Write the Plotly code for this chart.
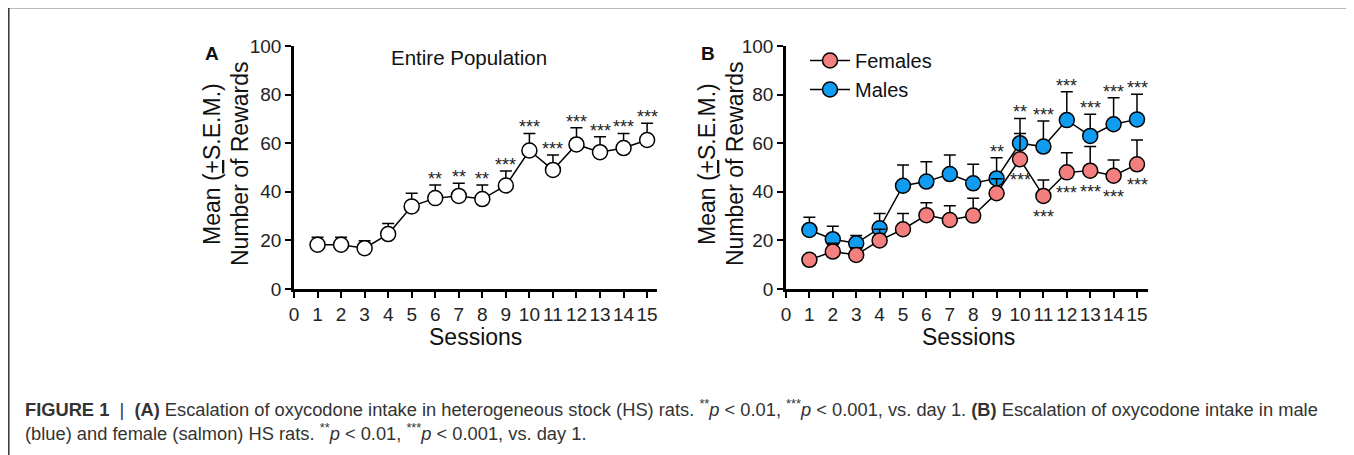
import plotly.graph_objects as go

W, H = 1354, 455
OFF = 8  # page body margin

sessions = list(range(1, 16))
x_ticks = list(range(0, 16))
y_ticks = [0, 20, 40, 60, 80, 100]

all_mean = [18.2, 18.2, 16.8, 22.6, 34.0, 37.4, 38.3, 37.0, 42.6, 57.0, 49.0, 59.5, 56.3, 58.0, 61.3]
all_sem = [3.1, 3.1, 3.1, 4.4, 5.4, 5.4, 5.2, 5.8, 6.0, 7.0, 6.1, 6.9, 6.4, 6.0, 6.9]
all_stars = ["", "", "", "", "", "**", "**", "**", "***", "***", "***", "***", "***", "***", "***"]

male_mean = [24.3, 20.5, 18.8, 25.0, 42.5, 44.2, 47.3, 43.5, 45.5, 60.0, 58.6, 69.5, 63.0, 67.8, 69.8]
male_sem = [5.2, 5.3, 3.2, 6.1, 8.5, 8.2, 7.8, 7.8, 8.5, 10.2, 10.5, 11.7, 8.9, 10.9, 10.3]
male_stars = ["", "", "", "", "", "", "", "", "**", "**", "***", "***", "***", "***", "***"]

female_mean = [12.0, 15.4, 14.0, 20.0, 24.6, 30.4, 28.4, 30.2, 39.4, 53.4, 38.3, 48.0, 48.7, 46.6, 51.3]
female_sem = [2.0, 3.4, 3.0, 4.6, 6.5, 5.1, 5.9, 7.1, 6.0, 10.6, 6.6, 8.1, 9.9, 6.5, 10.0]
female_stars = ["", "", "", "", "", "", "", "", "", "***", "***", "***", "***", "***", "***"]

FEMALE_COLOR = "#F47F7F"
MALE_COLOR = "#109CF0"
FONT = "Liberation Sans, Arial, Helvetica, sans-serif"


def px_x(p):
    return (p - OFF) / W


def px_y(p):
    return 1 - (p - OFF) / H


fig = go.Figure()


def add_series(xaxis, yaxis, mean, sem, color, name, show, rank):
    fig.add_trace(go.Scatter(
        x=sessions, y=mean, mode="lines+markers", name=name,
        xaxis=xaxis, yaxis=yaxis, showlegend=show, legendrank=rank,
        line=dict(color="black", width=1.5),
        marker=dict(size=15, color=color, line=dict(color="black", width=1.5)),
        error_y=dict(type="data", symmetric=False, array=sem,
                     arrayminus=[0] * len(sem), color="black",
                     thickness=1.5, width=6),
        cliponaxis=False,
    ))


add_series("x", "y", all_mean, all_sem, "white", "All", False, 3)
add_series("x2", "y2", male_mean, male_sem, MALE_COLOR, "Males", True, 2)
add_series("x2", "y2", female_mean, female_sem, FEMALE_COLOR, "Females", True, 1)

annotations = []
star_font = dict(family=FONT, size=18, color="#222")
for s, m, e, t in zip(sessions, all_mean, all_sem, all_stars):
    if t:
        annotations.append(dict(x=s, y=m + e, xref="x", yref="y", text=t, showarrow=False,
                                yanchor="bottom", yshift=-6, font=star_font))
for s, m, e, t in zip(sessions, male_mean, male_sem, male_stars):
    if t:
        annotations.append(dict(x=s, y=m + e, xref="x2", yref="y2", text=t, showarrow=False,
                                yanchor="bottom", yshift=-6, font=star_font))
for s, m, t in zip(sessions, female_mean, female_stars):
    if t:
        annotations.append(dict(x=s, y=m, xref="x2", yref="y2", text=t, showarrow=False,
                                yanchor="top", yshift=-9, font=star_font))

title_font = dict(family=FONT, size=23, color="#111")
mean_title = "Mean (<u>+</u>S.E.M.)"
for xp, txt in [(212, mean_title), (240, "Number of Rewards"),
                (707, mean_title), (735, "Number of Rewards")]:
    annotations.append(dict(x=px_x(xp), y=px_y(164), xref="paper", yref="paper", text=txt,
                            textangle=-90, showarrow=False, font=title_font,
                            xanchor="center", yanchor="middle"))
for xp in [476, 968]:
    annotations.append(dict(x=px_x(xp), y=px_y(337), xref="paper", yref="paper", text="Sessions",
                            showarrow=False, font=title_font, xanchor="center", yanchor="middle"))
for xp, txt in [(212, "A"), (708, "B")]:
    annotations.append(dict(x=px_x(xp), y=px_y(54), xref="paper", yref="paper", text="<b>" + txt + "</b>",
                            showarrow=False, font=dict(family=FONT, size=19, color="#111"),
                            xanchor="center", yanchor="middle"))
annotations.append(dict(x=px_x(469), y=px_y(57), xref="paper", yref="paper", text="Entire Population",
                        showarrow=False, font=dict(family=FONT, size=20.5, color="#111"),
                        xanchor="center", yanchor="middle"))

cap_font = dict(family="Liberation Sans Narrow, Arial Narrow, Liberation Sans, sans-serif", size=18.3, color="#333")
line1 = ("<b>FIGURE 1</b>  |  <b>(A)</b> Escalation of oxycodone intake in heterogeneous stock (HS) rats. "
         "<sup>**</sup><i>p</i> &lt; 0.01, <sup>***</sup><i>p</i> &lt; 0.001, vs. day 1. "
         "<b>(B)</b> Escalation of oxycodone intake in male")
line2 = ("(blue) and female (salmon) HS rats. <sup>**</sup><i>p</i> &lt; 0.01, "
         "<sup>***</sup><i>p</i> &lt; 0.001, vs. day 1.")
for yp, txt in [(408, line1), (432, line2)]:
    annotations.append(dict(x=px_x(23), y=px_y(yp), xref="paper", yref="paper", text=txt,
                            showarrow=False, font=cap_font, xanchor="left", yanchor="middle"))

axis_common = dict(showline=True, linecolor="black", linewidth=2.5, ticks="outside",
                   tickcolor="black", tickwidth=2, ticklen=6, showgrid=False, zeroline=False,
                   automargin=False, tickfont=dict(family=FONT, size=19, color="#222"),
                   fixedrange=True)

ydom = [px_y(289), px_y(46)]
fig.update_layout(
    template="none",
    autosize=False,
    width=W, height=H, margin=dict(l=0, r=0, t=0, b=0, pad=0, autoexpand=False),
    paper_bgcolor="white", plot_bgcolor="white",
    xaxis=dict(domain=[px_x(294), px_x(657)], range=[0, 15.42], tickvals=x_ticks,
               anchor="y", **axis_common),
    yaxis=dict(domain=ydom, range=[0, 100], tickvals=y_ticks, anchor="x", **axis_common),
    xaxis2=dict(domain=[px_x(786), px_x(1148)], range=[0, 15.47], tickvals=x_ticks,
                anchor="y2", **axis_common),
    yaxis2=dict(domain=ydom, range=[0, 100], tickvals=y_ticks, anchor="x2", **axis_common),
    legend=dict(x=px_x(805), y=px_y(41), xanchor="left", yanchor="top",
                font=dict(family=FONT, size=20, color="#111"), bgcolor="rgba(0,0,0,0)",
                itemwidth=40, tracegroupgap=0),
    annotations=annotations,
    shapes=[
        dict(type="line", xref="paper", yref="paper", x0=px_x(8), x1=px_x(1352), y0=px_y(7.5), y1=px_y(7.5),
             line=dict(color="#777", width=2)),
        dict(type="line", xref="paper", yref="paper", x0=px_x(8.8), x1=px_x(8.8), y0=px_y(7), y1=px_y(470),
             line=dict(color="#333", width=1.5)),
        dict(type="line", xref="paper", yref="paper", x0=px_x(1351), x1=px_x(1351), y0=px_y(7), y1=px_y(470),
             line=dict(color="#666", width=1.5)),
    ],
    showlegend=True,
)

fig.write_html("out.html")
